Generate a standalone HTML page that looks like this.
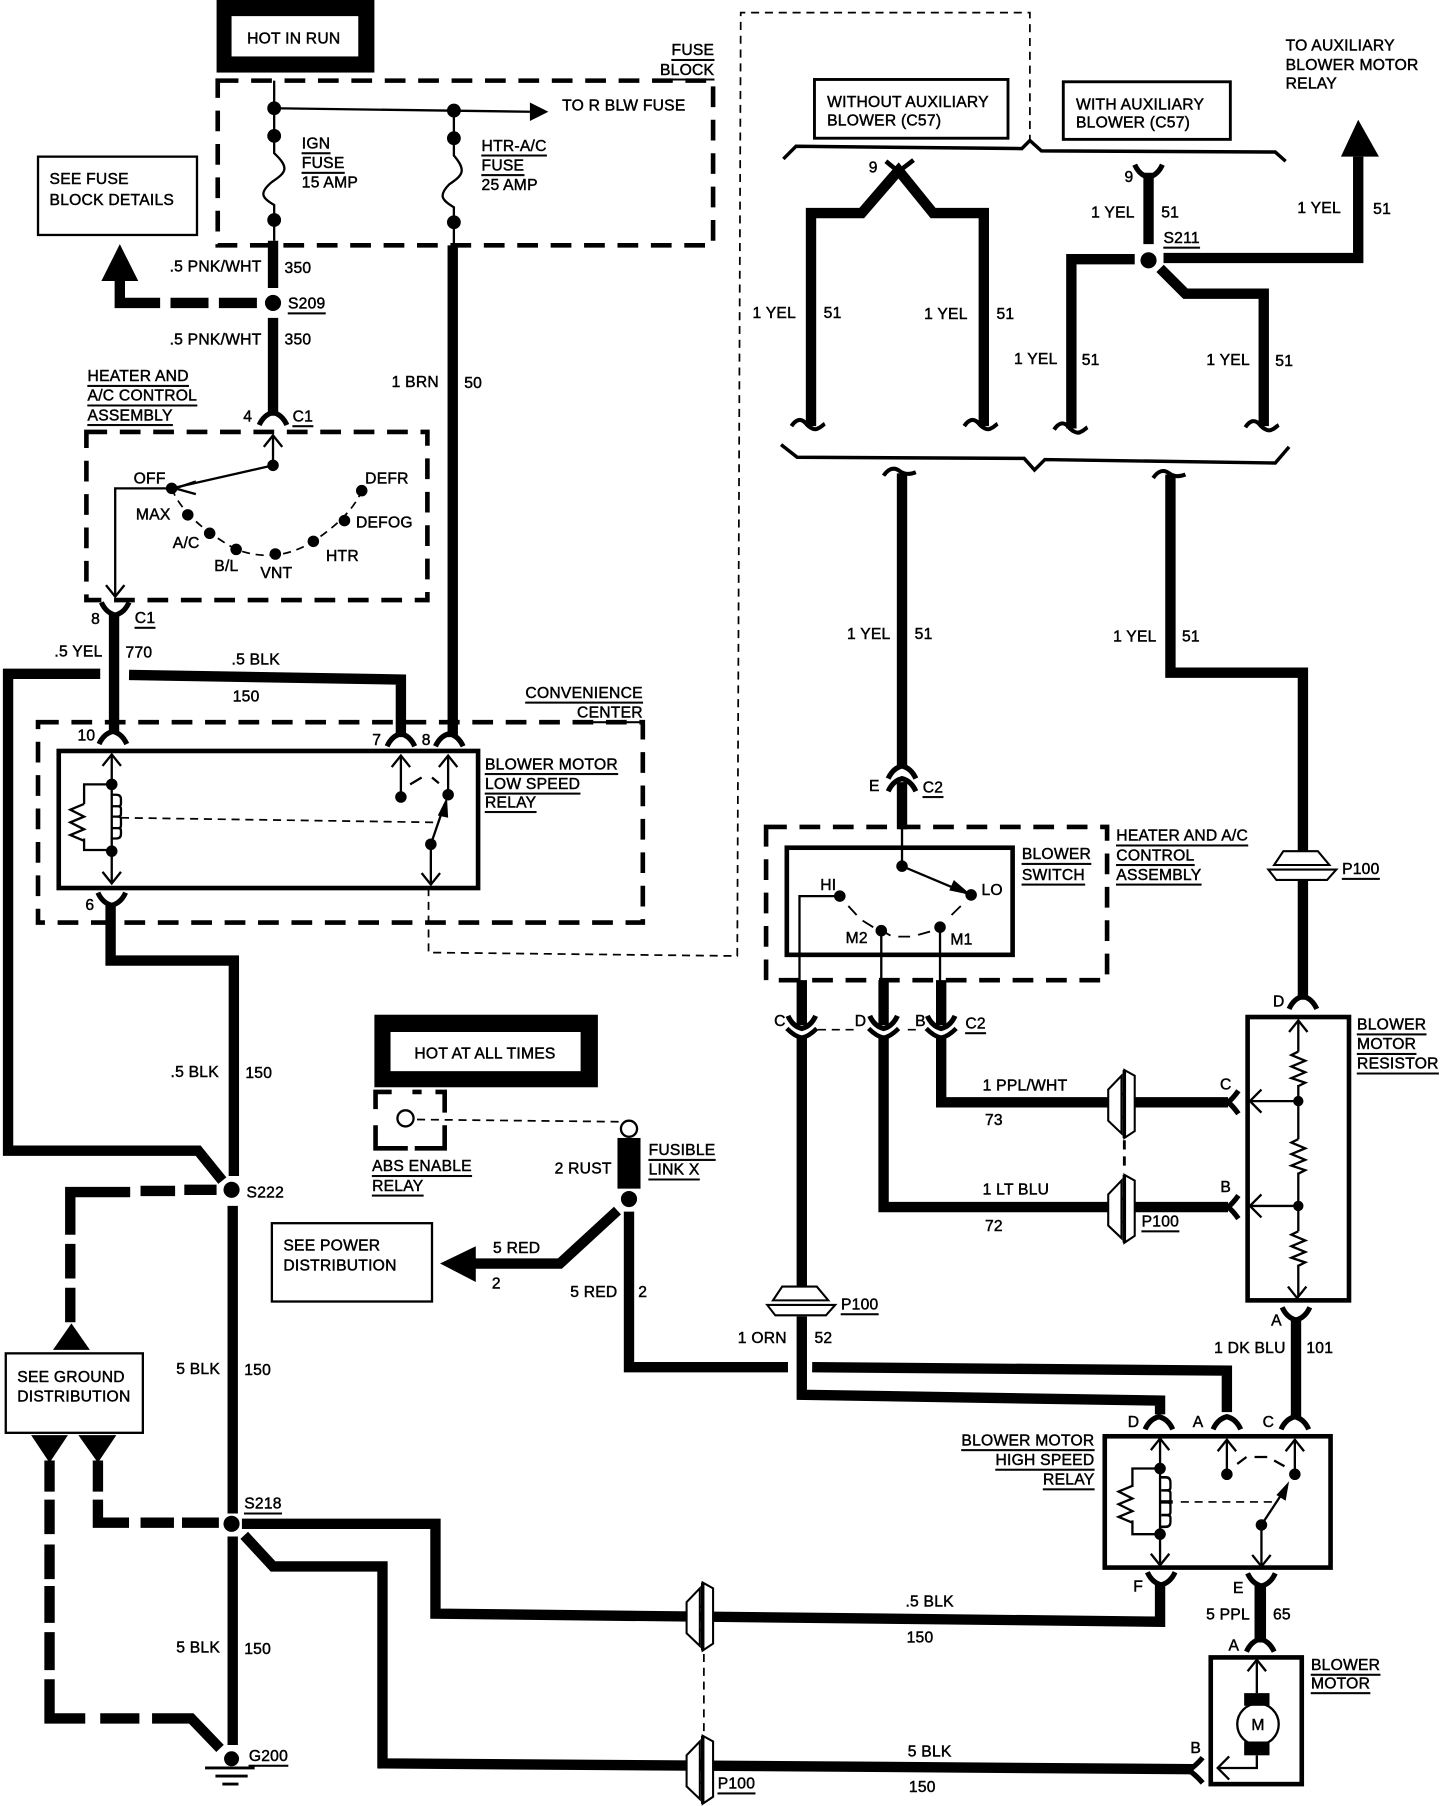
<!DOCTYPE html>
<html><head><meta charset="utf-8"><title>Blower motor wiring diagram</title>
<style>
html,body{margin:0;padding:0;background:#fff}
svg{display:block}
text{font-family:"Liberation Sans",sans-serif;font-size:13.6px;fill:#000;stroke:#000;stroke-width:.4;dominant-baseline:central;letter-spacing:.2px;transform:translateY(1px)}
.e{text-anchor:end}.m{text-anchor:middle}
.u{text-decoration:underline;text-decoration-thickness:1px;text-underline-offset:2px}
.w{stroke:#000;stroke-width:9;fill:none;stroke-linejoin:miter}
.t{stroke:#000;stroke-width:2;fill:none}
.d{stroke:#000;stroke-width:4;fill:none;stroke-dasharray:18 11}
.f{stroke:#000;stroke-width:1.5;fill:none;stroke-dasharray:7 5}
.b{stroke:#000;stroke-width:2.5;fill:#fff}
.c{stroke:#000;stroke-width:4.5;fill:none;stroke-linecap:butt}
</style></head><body>
<svg xmlns="http://www.w3.org/2000/svg" width="1440" height="1806" viewBox="0 0 1250 1568" preserveAspectRatio="none">
<defs>
<path id="ca" class="c" d="M-12,9 Q-8,0 0,-2 Q8,0 12,9"/>
<path id="cy" class="c" d="M-12,-9 Q-8,0 0,2 Q8,0 12,-9"/>
<path id="cl" class="c" style="stroke-width:4" d="M-13,-3 Q-6,4 0,5 Q6,4 13,-3"/>
<path id="cs" class="c" d="M8,-10 Q3,-3 -1,0 Q3,3 8,10"/>
<path id="td" class="c" style="stroke-width:3.5" d="M-15,1 C-11,-5 -7,-6 -3,-2 C0,2 5,5 8,3 C11,2 12,0 14,-1"/>
<path id="tu" class="c" style="stroke-width:3.5" d="M-15,1 C-11,-5 -6,-7 -1,-3 C3,0 8,0 13,-2"/>
<polyline id="au" class="t" points="-8,10 0,0 8,10"/>
<polyline id="ad" class="t" points="-8,-10 0,0 8,-10"/>
<polyline id="al" class="t" points="10,-10 0,0 10,10"/>
<path id="zz" class="t" d="M0,0 L-6,3 L6,8 L-6,13 L6,18 L-6,23 L6,27 L0,30"/>
<path id="zr" class="t" d="M0,-2 L-12,3 L0,9 L-12,14 L0,20 L-12,25 L0,30"/>
<path id="coil" class="t" d="M0,0 h5 q4,0 4,4 v4 q0,2 -3,2 h-5 M6,10 q3,0 3,2 v5 q0,2 -3,2 h-5 M6,19 q3,0 3,2 v6 q0,2 -3,2 h-5 M6,29 q3,0 3,2 v3 q0,4 -4,4 h-5"/>
<g id="ph"><polygon class="b" style="stroke-width:1.8" points="-2.5,-24 -14,-12 -14,15 -2.5,26"/><polygon class="b" style="stroke-width:1.8" points="0,-29 9,-24 9,24 0,30"/><line x1="0" y1="-29" x2="0" y2="30" stroke="#000" stroke-width="3"/><line x1="-2.5" y1="-8" x2="0" y2="-8" stroke="#000" stroke-width="2"/><line x1="-2.5" y1="12" x2="0" y2="12" stroke="#000" stroke-width="2"/></g>
<g id="pv"><polygon class="b" style="stroke-width:1.8" points="-25,-2 -17,-14 13,-14 23,-2"/><polygon class="b" style="stroke-width:1.8" points="-30,2 29,2 21,11 -23,11"/></g>
</defs>

<!-- HOT IN RUN -->
<rect x="188" y="0" width="137" height="63" fill="#000"/>
<rect x="201" y="14" width="110" height="35" fill="#fff"/>
<text x="255" y="33" class="m">HOT IN RUN</text>

<!-- Fuse block -->
<rect x="189" y="70" width="430" height="143" class="d"/>
<text x="620" y="43" class="e u">FUSE</text><text x="620" y="60" class="e u">BLOCK</text>
<path class="t" d="M238,70 V118 M238,118 V133 C252,146 248,150 236,158 C224,168 228,172 238,178 V209"/>
<path class="t" d="M394,96 V120 M394,120 V135 C405,148 402,152 390,160 C380,170 384,174 394,180 V213"/>
<path class="t" d="M238,94 L460,97"/>
<polygon points="460,89 476,97 460,105" fill="#000"/>
<circle cx="238" cy="94" r="6"/><circle cx="394" cy="96" r="6"/>
<circle cx="238" cy="118" r="6"/><circle cx="394" cy="120" r="6"/>
<circle cx="238" cy="191" r="6"/><circle cx="394" cy="193" r="6"/>
<text x="488" y="91">TO R BLW FUSE</text>
<text x="262" y="124" class="u">IGN</text><text x="262" y="141" class="u">FUSE</text><text x="262" y="158">15 AMP</text>
<text x="418" y="126" class="u">HTR-A/C</text><text x="418" y="143" class="u">FUSE</text><text x="418" y="160">25 AMP</text>

<rect x="33" y="136" width="138" height="68" class="t" />
<text x="43" y="155">SEE FUSE</text><text x="43" y="173">BLOCK DETAILS</text>
<polygon points="104,212 88,244 120,244" fill="#000"/>
<path class="w" d="M104,244 V263 H139 M148,263 H181 M190,263 H223"/>
<circle cx="237" cy="263" r="7"/>
<text x="250" y="263" class="u">S209</text>
<path class="w" d="M237,209 V250 M237,276 V361"/>
<text x="227" y="231" class="e">.5 PNK/WHT</text><text x="247" y="232">350</text>
<text x="227" y="294" class="e">.5 PNK/WHT</text><text x="247" y="294">350</text>

<path class="w" d="M393,213 V640"/>
<text x="381" y="331" class="e">1 BRN</text><text x="403" y="332">50</text>

<!-- Heater control -->
<text x="76" y="326" class="u">HEATER AND</text><text x="76" y="343" class="u">A/C CONTROL</text><text x="76" y="360" class="u">ASSEMBLY</text>
<use href="#ca" x="237" y="360"/>
<text x="215" y="361" class="m">4</text><text x="254" y="361" class="u">C1</text>
<rect x="75" y="375" width="296" height="146" class="d"/>
<use href="#au" x="237" y="378"/>
<path class="t" d="M237,378 V404 L149,424 H100 V518"/>
<polyline class="t" points="170,418 152,424 170,429"/>
<use href="#ad" x="100" y="518"/>
<path class="f" d="M149,424 Q160,452 205,477 Q240,490 272,470 Q305,448 314,426"/>
<circle cx="237" cy="404" r="5"/><circle cx="149" cy="424" r="5"/><circle cx="163" cy="447" r="5"/><circle cx="182" cy="463" r="5"/><circle cx="205" cy="477" r="5"/><circle cx="239" cy="481" r="5"/><circle cx="272" cy="470" r="5"/><circle cx="299" cy="452" r="5"/><circle cx="314" cy="426" r="5"/>
<text x="116" y="415">OFF</text><text x="317" y="415">DEFR</text><text x="118" y="446">MAX</text><text x="150" y="471">A/C</text><text x="186" y="491">B/L</text><text x="226" y="497">VNT</text><text x="283" y="482">HTR</text><text x="309" y="453">DEFOG</text>

<!-- 770 etc -->
<use href="#cy" x="100" y="532"/>
<text x="83" y="537" class="m">8</text><text x="117" y="536" class="u">C1</text>
<path class="w" d="M99,532 V636"/>
<text x="89" y="565" class="e">.5 YEL</text><text x="109" y="566">770</text>
<path class="w" d="M87,585 H7 V999 H172 L193,1025"/>
<path class="w" d="M112,586 L348,590 V640"/>
<text x="201" y="572">.5 BLK</text><text x="202" y="604">150</text>
<text x="558" y="601" class="e u">CONVENIENCE</text><text x="558" y="618" class="e u">CENTER</text>
<rect x="33" y="627" width="525" height="174" class="d"/>
<rect x="51" y="652" width="364" height="119" fill="#fff" stroke="#000" stroke-width="4"/>
<use href="#ca" x="98" y="637"/><use href="#ca" x="348" y="639"/><use href="#ca" x="390" y="639"/>
<text x="75" y="638" class="m">10</text><text x="327" y="642" class="m">7</text><text x="370" y="642" class="m">8</text><text x="78" y="785" class="m">6</text>
<use href="#au" x="97" y="655"/><path class="t" d="M97,655 V767 M97,681 H73 V698 M73,728 V738 H97"/>
<use href="#coil" x="96" y="690"/>
<use href="#zr" x="73" y="700"/><use href="#ad" x="97" y="767"/>
<circle cx="97" cy="681" r="5"/><circle cx="97" cy="739" r="5"/>
<line x1="105" y1="710" x2="378" y2="714" class="f"/>
<use href="#au" x="348" y="656"/><use href="#au" x="389" y="656"/>
<path class="t" d="M348,656 V692 M389,656 V690 M374,733 L386,698 M374,733 V768"/>
<polygon points="388,692 380,708 389,710" fill="#000"/>
<circle cx="348" cy="692" r="5"/><circle cx="389" cy="690" r="5"/><circle cx="374" cy="733" r="5"/>
<use href="#ad" x="374" y="768"/>
<path class="t" d="M356,681 L366,675 M375,675 L381,680"/>
<text x="421" y="663" class="u">BLOWER MOTOR</text><text x="421" y="680" class="u">LOW SPEED</text><text x="421" y="696" class="u">RELAY</text>
<use href="#cy" x="97" y="784"/>
<path class="w" d="M96,785 V834 H203 V1021"/>
<text x="190" y="930" class="e">.5 BLK</text><text x="213" y="931">150</text>
<path class="f" d="M372,771 V827 L640,830 L643,11 H894 V122"/>

<!-- S222 -->
<circle cx="201" cy="1033" r="7"/><text x="214" y="1035">S222</text>
<path class="w" d="M188,1033 H160 M152,1034 H122 M113,1035 H61 V1072 M61,1080 V1110 M61,1118 V1148"/>
<polygon points="62,1149 46,1172 78,1172" fill="#000"/>
<rect x="5" y="1175" width="119" height="69" class="t"/>
<text x="15" y="1195">SEE GROUND</text><text x="15" y="1212">DISTRIBUTION</text>
<polygon points="27,1246 59,1246 43,1270" fill="#000"/><polygon points="68,1246 101,1246 85,1270" fill="#000"/>
<path class="w" d="M43,1268 V1295 M43,1302 V1332 M43,1341 V1371 M43,1377 V1409 M43,1417 V1450 M43,1458 V1492 H74 M87,1492 H121 M132,1492 H166 L191,1518"/>
<path class="w" d="M85,1268 V1295 M85,1302 V1322 H112 M122,1322 H151 M158,1322 H190"/>
<path class="w" d="M202,1047 V1314 M202,1334 V1515"/>
<circle cx="201" cy="1323" r="7"/><text x="212" y="1305" class="u">S218</text>
<text x="191" y="1188" class="e">5 BLK</text><text x="212" y="1189">150</text>
<text x="191" y="1430" class="e">5 BLK</text><text x="212" y="1431">150</text>
<circle cx="201" cy="1527" r="6.5"/>
<path d="M178,1535 H221 M187,1542 H215 M193,1549 H207" stroke="#000" stroke-width="2.5"/>
<text x="216" y="1524" class="u">G200</text>
<path class="w" d="M210,1323 H378 V1401 L1007,1408 V1376"/>
<path class="w" d="M212,1333 L237,1360 H332 V1531 L1036,1536"/>
<use href="#ph" x="610" y="1403"/><use href="#ph" x="610" y="1536"/>
<line x1="611" y1="1436" x2="611" y2="1506" class="f"/>
<text x="623" y="1548" class="u">P100</text>
<text x="786" y="1390">.5 BLK</text><text x="787" y="1421">150</text>
<text x="788" y="1520">5 BLK</text><text x="789" y="1551">150</text>

<!-- Hot at all times -->
<rect x="325" y="881" width="194" height="63" fill="#000"/>
<rect x="339" y="896" width="165" height="34" fill="#fff"/>
<text x="421" y="914" class="m">HOT AT ALL TIMES</text>
<path d="M326,963 V948 H340 M358,948 H366 M378,948 H386 V966 M386,977 V997 H360 M354,997 H326 V977" fill="none" stroke="#000" stroke-width="4"/>
<circle cx="352" cy="971" r="7" class="b" style="stroke-width:2"/>
<line x1="362" y1="972" x2="546" y2="974" class="f"/>
<circle cx="546" cy="980" r="7" class="b" style="stroke-width:2"/>
<rect x="536" y="988" width="20" height="44" fill="#000"/>
<circle cx="546" cy="1041" r="7"/>
<text x="323" y="1012" class="u">ABS ENABLE</text><text x="323" y="1029" class="u">RELAY</text>
<text x="531" y="1014" class="e">2 RUST</text>
<text x="563" y="998" class="u">FUSIBLE</text><text x="563" y="1015" class="u">LINK X</text>
<rect x="236" y="1062" width="139" height="68" class="t"/>
<text x="246" y="1081">SEE POWER</text><text x="246" y="1098">DISTRIBUTION</text>
<polygon points="382,1097 413,1082 413,1113" fill="#000"/>
<path class="w" d="M412,1097 H486 L536,1051"/>
<text x="428" y="1083">5 RED</text><text x="427" y="1114">2</text>
<text x="536" y="1121" class="e">5 RED</text><text x="554" y="1121">2</text>
<path class="w" d="M546,1052 V1187 H684 M705,1187 L1065,1190 V1226"/>

<!-- Upper right section -->
<g transform="translate(2,0)">
<rect x="705" y="69" width="168" height="51" class="b" style="fill:none"/>
<text x="716" y="88">WITHOUT AUXILIARY</text><text x="716" y="104">BLOWER (C57)</text>
<rect x="921" y="71" width="145" height="50" class="b" style="fill:none"/>
<text x="932" y="90">WITH AUXILIARY</text><text x="932" y="106">BLOWER (C57)</text>
<text x="1114" y="39">TO AUXILIARY</text><text x="1114" y="56">BLOWER MOTOR</text><text x="1114" y="72">RELAY</text>
<polyline points="678,138 689,127 885,129 892,122 902,131 1105,132 1114,140" fill="none" stroke="#000" stroke-width="3"/>
<polyline points="676,386 690,397 887,398 896,408 905,399 1105,402 1117,388" fill="none" stroke="#000" stroke-width="3"/>

<path class="w" d="M702,370 V185 H746 L778,148 L808,185 H852 V370"/>
<path class="c" d="M767,140 L778,149 L791,139" style="stroke-width:4"/>
<text x="756" y="145" class="m">9</text>
<use href="#td" x="700" y="369"/><use href="#td" x="850" y="369"/>
<text x="689" y="271" class="e">1 YEL</text><text x="713" y="271">51</text>
<text x="838" y="272" class="e">1 YEL</text><text x="863" y="272">51</text>

<use href="#cy" x="995" y="152"/><text x="978" y="153" class="m">9</text>
<path class="w" d="M995,150 V212"/>
<text x="983" y="184" class="e">1 YEL</text><text x="1006" y="184">51</text>
<text x="1008" y="206" class="u">S211</text>
<circle cx="995" cy="226" r="7"/>
<path class="w" d="M983,225 H928 V372"/>
<path class="w" d="M1008,224 H1177 V136"/>
<polygon points="1177,104 1162,136 1195,136" fill="#000"/>
<path class="w" d="M1005,233 L1027,255 H1095 V370"/>
<use href="#td" x="928" y="372"/><use href="#td" x="1094" y="370"/>
<text x="1162" y="180" class="e">1 YEL</text><text x="1190" y="181">51</text>
<text x="916" y="311" class="e">1 YEL</text><text x="937" y="312">51</text>
<text x="1083" y="312" class="e">1 YEL</text><text x="1105" y="313">51</text>

<use href="#tu" x="780" y="412"/><use href="#tu" x="1014" y="414"/>
<path class="w" d="M781,411 V666 M781,679 V720"/>
<path class="w" d="M1014,412 V584 H1129 V740 M1129,764 V868"/>
<text x="771" y="550" class="e">1 YEL</text><text x="792" y="550">51</text>
<text x="1002" y="552" class="e">1 YEL</text><text x="1024" y="552">51</text>
<use href="#ca" x="781" y="667"/><use href="#ca" x="781" y="678"/>
<text x="757" y="682" class="m">E</text><text x="799" y="683" class="u">C2</text>
<use href="#pv" x="1129" y="753"/><text x="1163" y="754" class="u">P100</text>
<use href="#ca" x="1129" y="867"/><text x="1108" y="869" class="m">D</text>
</g>

<!-- Blower switch -->
<rect x="665" y="718" width="296" height="133" class="d"/>
<rect x="683" y="736" width="196" height="93" fill="#fff" stroke="#000" stroke-width="4"/>
<text x="887" y="741" class="u">BLOWER</text><text x="887" y="759" class="u">SWITCH</text>
<text x="969" y="725" class="u">HEATER AND A/C</text><text x="969" y="742" class="u">CONTROL</text><text x="969" y="759" class="u">ASSEMBLY</text>
<path class="t" d="M783,718 V752 L840,776"/>
<polygon points="843,777 824,773 828,764" fill="#000"/>
<path class="t" d="M729,778 H694 V853 M765,808 V853 M816,805 V853"/>
<path class="t" style="stroke-width:1.6" d="M736.4,786.6 L743.6,794.4 M748.8,799.3 L758,805 M769,810 L773,812.3 M779.8,813.2 L790,813.2 M797,811.7 L807.3,808.8 M826,794.4 L834,786.6"/>
<circle cx="783" cy="752" r="5"/><circle cx="843" cy="777" r="5"/><circle cx="729" cy="778" r="5"/><circle cx="765" cy="808" r="5"/><circle cx="816" cy="805" r="5"/>
<text x="712" y="768">HI</text><text x="852" y="772">LO</text><text x="734" y="814">M2</text><text x="825" y="815">M1</text>
<path class="w" d="M696,851 V890 M696,900 V1123 M696,1143 V1211 L1007,1216 V1228 M767,851 V890 M767,900 V1048 H962 M984,1048 H1066 M817,851 V890 M817,900 V957 H962 M984,957 H1066"/>
<use href="#cy" x="696" y="891"/><use href="#cl" x="696" y="896"/>
<use href="#cy" x="767" y="891"/><use href="#cl" x="767" y="896"/>
<use href="#cy" x="817" y="891"/><use href="#cl" x="817" y="896"/>
<path class="f" d="M710,894 H745 M788,894 H798"/>
<text x="677" y="886" class="m">C</text><text x="747" y="886" class="m">D</text><text x="799" y="886" class="m">B</text><text x="838" y="888" class="u">C2</text>
<use href="#ph" x="976" y="958"/><use href="#ph" x="976" y="1049"/>
<line x1="976" y1="990" x2="976" y2="1018" stroke="#000" stroke-width="2.5" stroke-dasharray="8 6"/>
<text x="853" y="942">1 PPL/WHT</text><text x="855" y="972">73</text>
<text x="853" y="1032">1 LT BLU</text><text x="855" y="1064">72</text>
<text x="991" y="1060" class="u">P100</text>
<use href="#pv" x="696" y="1131"/><text x="730" y="1132" class="u">P100</text>
<text x="683" y="1161" class="e">1 ORN</text><text x="707" y="1161">52</text>

<!-- Resistor -->
<rect x="1083" y="883" width="88" height="246" fill="#fff" stroke="#000" stroke-width="4"/>
<text x="1178" y="889" class="u">BLOWER</text><text x="1178" y="906" class="u">MOTOR</text><text x="1178" y="923" class="u">RESISTOR</text>
<use href="#au" x="1127" y="886"/>
<path class="t" d="M1127,886 V913 M1127,942 V989 M1127,1018 V1069 M1127,1098 V1126 M1127,956 H1085 M1127,1047 H1085"/>
<use href="#zz" x="1127" y="913"/><use href="#zz" x="1127" y="989"/><use href="#zz" x="1127" y="1069"/>
<circle cx="1127" cy="956" r="4.5"/><circle cx="1127" cy="1047" r="4.5"/>
<use href="#al" x="1085" y="956"/><use href="#al" x="1085" y="1047"/><use href="#ad" x="1126" y="1127"/>
<use href="#cs" x="1067" y="957"/><use href="#cs" x="1067" y="1048"/>
<text x="1064" y="941" class="m">C</text><text x="1064" y="1030" class="m">B</text>
<use href="#cy" x="1125" y="1144"/><text x="1108" y="1146" class="m">A</text>
<path class="w" d="M1125,1144 V1232"/>
<text x="1116" y="1170" class="e">1 DK BLU</text><text x="1134" y="1170">101</text>

<!-- High speed relay -->
<use href="#ca" x="1006" y="1232"/><use href="#ca" x="1065" y="1232"/><use href="#ca" x="1124" y="1232"/>
<text x="984" y="1234" class="m">D</text><text x="1040" y="1234" class="m">A</text><text x="1101" y="1234" class="m">C</text>
<text x="950" y="1250" class="e u">BLOWER MOTOR</text><text x="950" y="1267" class="e u">HIGH SPEED</text><text x="950" y="1284" class="e u">RELAY</text>
<rect x="959" y="1247" width="196" height="114" fill="#fff" stroke="#000" stroke-width="4"/>
<use href="#au" x="1007" y="1249"/><use href="#ad" x="1007" y="1359"/>
<path class="t" d="M1007,1249 V1359 M1007,1275 H983 V1291 M983,1320 V1332 H1007"/>
<use href="#coil" x="1007" y="1282" transform="translate(0,-166) scale(1,1.13)"/>
<line x1="1007" y1="1304" x2="1018" y2="1304" stroke="#000" stroke-width="3"/>
<use href="#zr" x="983" y="1292"/>
<circle cx="1007" cy="1275" r="5"/><circle cx="1007" cy="1332" r="5"/>
<line x1="1025" y1="1304" x2="1107" y2="1304" class="f"/>
<use href="#au" x="1065" y="1250"/><use href="#au" x="1124" y="1250"/>
<path class="t" d="M1065,1250 V1280 M1124,1250 V1280 M1095,1324 L1116,1292 M1095,1324 V1360"/>
<polygon points="1119,1286 1108,1298 1116,1303" fill="#000"/>
<circle cx="1065" cy="1280" r="5"/><circle cx="1124" cy="1280" r="5"/><circle cx="1095" cy="1324" r="5"/>
<use href="#ad" x="1095" y="1360"/>
<path class="t" d="M1074,1271 L1082,1265 M1089,1265 L1100,1265 M1106,1268 L1115,1273"/>
<use href="#cy" x="1008" y="1374"/><use href="#cy" x="1095" y="1375"/>
<text x="988" y="1377" class="m">F</text><text x="1075" y="1378" class="m">E</text>
<path class="w" style="stroke-width:10" d="M1094,1375 V1426"/>
<text x="1085" y="1401" class="e">5 PPL</text><text x="1105" y="1401">65</text>
<use href="#ca" x="1094" y="1425"/><text x="1071" y="1428" class="m">A</text>

<!-- Blower motor -->
<rect x="1051" y="1439" width="79" height="110" fill="#fff" stroke="#000" stroke-width="4"/>
<text x="1138" y="1445" class="u">BLOWER</text><text x="1138" y="1461" class="u">MOTOR</text>
<use href="#au" x="1091" y="1441"/>
<path class="t" d="M1091,1441 V1470 M1091,1524 V1535 H1057"/>
<use href="#al" x="1057" y="1535"/>
<circle cx="1092" cy="1497" r="18" class="t"/>
<rect x="1080" y="1470" width="22" height="11" fill="#000"/><rect x="1080" y="1512" width="22" height="12" fill="#000"/>
<text x="1092" y="1497" class="m">M</text>
<path class="c" d="M1044,1526 Q1038,1533 1032,1537 Q1038,1541 1044,1548"/>
<text x="1038" y="1517" class="m">B</text>
</svg>
</body></html>
